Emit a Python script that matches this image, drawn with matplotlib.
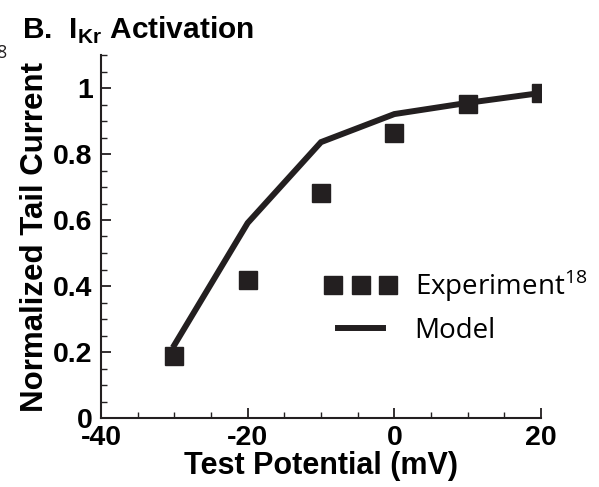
import matplotlib
matplotlib.use("Agg")
import matplotlib.pyplot as plt
from matplotlib.ticker import MultipleLocator, FixedLocator, FixedFormatter
from matplotlib.legend_handler import HandlerLine2D

plt.rcParams['mathtext.fontset'] = 'custom'
plt.rcParams['mathtext.rm'] = 'Open Sans'
plt.rcParams['mathtext.bf'] = 'Liberation Sans:bold'

# Data
exp_x = [-30, -20, -10, 0, 10, 20]
exp_y = [0.188, 0.418, 0.682, 0.864, 0.952, 0.985]
model_x = [-30, -20, -10, 0, 10, 20]
model_y = [0.221, 0.591, 0.836, 0.921, 0.955, 0.985]
xticks = [-40, -20, 0, 20]
xticklabels = ['-40', '-20', '0', '20']
yticks = [0, 0.2, 0.4, 0.6, 0.8, 1.0]
yticklabels = ['0', '0.2', '0.4', '0.6', '0.8', '1']

col = '#231f20'
W, H = 599, 487
fig = plt.figure(figsize=(W/100, H/100), dpi=100)
ax = fig.add_axes([101/W, 1-418/H, (541-101)/W, (418-55)/H])

l_model, = ax.plot(model_x, model_y, color=col, lw=4.3, solid_joinstyle='miter', zorder=2)
l_exp, = ax.plot(exp_x, exp_y, ls='none', marker='s', ms=13, color=col, mec=col, zorder=3)

ax.set_xlim(-40, 20)
ax.set_ylim(0, 1.1)
for s in ['top', 'right']:
    ax.spines[s].set_visible(False)
for s in ['left', 'bottom']:
    ax.spines[s].set_linewidth(1.5)
    ax.spines[s].set_color(col)

ax.xaxis.set_major_locator(FixedLocator(xticks))
ax.xaxis.set_major_formatter(FixedFormatter(xticklabels))
ax.yaxis.set_major_locator(FixedLocator(yticks))
ax.yaxis.set_major_formatter(FixedFormatter(yticklabels))
ax.xaxis.set_minor_locator(MultipleLocator(5))
ax.yaxis.set_minor_locator(MultipleLocator(0.05))
ax.tick_params(which='major', direction='in', length=7, width=1.3, color=col)
ax.tick_params(which='minor', direction='in', length=4, width=1.0, color=col)
ax.tick_params(axis='x', which='major', pad=5)
ax.tick_params(axis='y', which='major', pad=6)

for lab in ax.get_xticklabels() + ax.get_yticklabels():
    lab.set_fontfamily('Liberation Sans')
    lab.set_fontweight('bold')
    lab.set_fontsize(20.5)

ax.set_xlabel('Test Potential (mV)', fontfamily='Liberation Sans', fontweight='bold', fontsize=22, labelpad=0)
ax.set_ylabel('Normalized Tail Current', fontfamily='Liberation Sans', fontweight='bold', fontsize=22.5, labelpad=2)

fig.text(22/W, 1-30/H, r'B.  I$_{\mathbf{Kr}}$ Activation', fontfamily='Liberation Sans',
         fontweight='bold', fontsize=21.5, va='center', ha='left')
fig.text(-4/W, 1-53/H, '8', fontfamily='Open Sans', fontsize=13, va='center', ha='left', color=col)

leg = ax.legend([l_exp, l_model], [r'Experiment$^{18}$', 'Model'], loc='upper left',
                bbox_to_anchor=(330/W, 1-268/H), bbox_transform=fig.transFigure,
                frameon=False, numpoints=3, markerscale=1.0, borderpad=0, borderaxespad=0,
                handlelength=2.2, handletextpad=0.85, labelspacing=0.45,
                handler_map={l_exp: HandlerLine2D(numpoints=3, marker_pad=0.1)},
                prop=dict(family='Open Sans', size=20))

fig.savefig('out.png', dpi=100)
